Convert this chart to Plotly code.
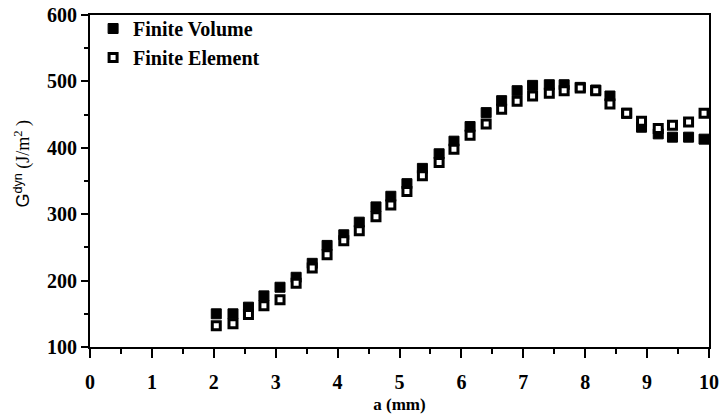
import plotly.graph_objects as go

a_mm = [2.04, 2.31, 2.56, 2.81, 3.07, 3.33, 3.59, 3.83, 4.10, 4.35, 4.62, 4.86,
        5.12, 5.37, 5.64, 5.88, 6.14, 6.40, 6.65, 6.90, 7.15, 7.42, 7.66, 7.92,
        8.17, 8.40, 8.67, 8.91, 9.18, 9.41, 9.67, 9.92]
g_fv = [150, 150, 160, 177, 190, 205, 226, 253, 269, 288, 311, 327,
        346, 369, 391, 410, 432, 453, 471, 486, 494, 495, 495, 491,
        487, 478, 452, 431, 421, 416, 416, 413]
g_fe = [132, 135, 149, 162, 171, 196, 219, 239, 260, 275, 296, 314,
        334, 358, 378, 398, 419, 436, 458, 470, 478, 482, 486, 490,
        486, 466, 452, 440, 429, 434, 439, 452]

x_ticks = list(range(0, 11))
y_ticks = [100, 200, 300, 400, 500, 600]

FONT = "Liberation Serif"

fig = go.Figure()
fig.add_trace(go.Scatter(
    x=a_mm, y=g_fv, mode="markers", name="<b>Finite Volume</b>",
    marker=dict(symbol="square", size=10, color="black",
                line=dict(color="black", width=1)),
))
fig.add_trace(go.Scatter(
    x=a_mm, y=g_fe, mode="markers", name="<b>Finite Element</b>",
    marker=dict(symbol="square", size=8, color="white",
                line=dict(color="black", width=3)),
))

fig.update_layout(
    width=719, height=416,
    margin=dict(l=90, r=10, t=14, b=69),
    paper_bgcolor="white", plot_bgcolor="white",
    font=dict(family=FONT, size=18, color="black"),
    showlegend=True,
    legend=dict(x=0.005, y=1.015, xanchor="left", yanchor="top",
                bgcolor="rgba(0,0,0,0)", borderwidth=0,
                font=dict(family=FONT, size=20, color="black"),
                itemsizing="trace"),
    annotations=[dict(
        text="<span style='font-family:Liberation Sans'>G<sup>dyn</sup></span> (J/m<sup>2</sup> )",
        xref="paper", yref="paper", x=-0.108, y=0.553,
        xanchor="center", yanchor="middle", textangle=-90, showarrow=False,
        font=dict(family=FONT, size=18, color="black"),
    )],
)

fig.update_xaxes(
    range=[0, 10], tickvals=x_ticks, ticktext=["<b>%d</b>" % v for v in x_ticks],
    showgrid=False, zeroline=False, automargin=False,
    showline=True, linecolor="black", linewidth=2, mirror=True,
    ticks="outside", ticklen=9, tickwidth=1.5, tickcolor="black",
    minor=dict(dtick=0.5, ticks="outside", ticklen=5, tickwidth=1.5, tickcolor="black"),
    tickfont=dict(family=FONT, size=20, color="black"),
    ticklabelstandoff=7,
    title=dict(text="<b>a (mm)</b>", font=dict(family=FONT, size=17, color="black"), standoff=6),
)
fig.update_yaxes(
    range=[100, 600], tickvals=y_ticks, ticktext=["<b>%d</b>" % v for v in y_ticks],
    showgrid=False, zeroline=False, automargin=False,
    showline=True, linecolor="black", linewidth=2, mirror=True,
    ticks="outside", ticklen=7, tickwidth=1.5, tickcolor="black",
    minor=dict(dtick=50, ticks="outside", ticklen=4, tickwidth=1.5, tickcolor="black"),
    tickfont=dict(family=FONT, size=20, color="black"),
)

fig.write_html("out.html")
